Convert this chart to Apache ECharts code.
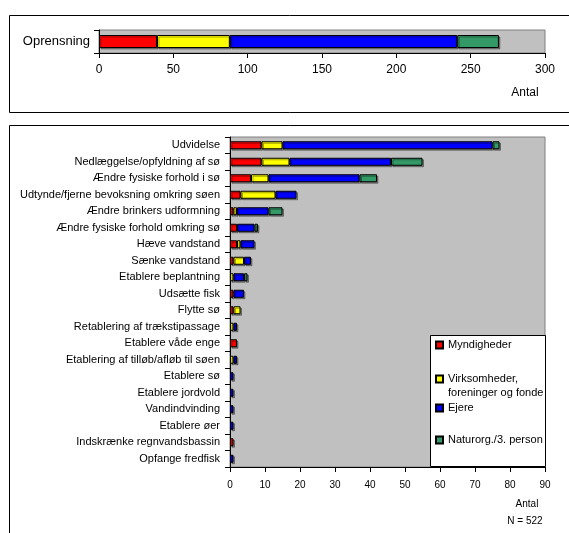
<!DOCTYPE html>
<html><head><meta charset="utf-8">
<script src="https://cdn.jsdelivr.net/npm/echarts@6/dist/echarts.min.js"></script>
<style>html,body{margin:0;padding:0;background:#fff}#c{width:569px;height:533px}</style>
</head><body><div id="c"></div>
<script>
const seriesNames = ['Myndigheder', 'Virksomheder, foreninger og fonde', 'Ejere', 'Naturorg./3. person'];
const colors = ['#ff0000', '#ffff00', '#0000ff', '#339966'];

const topCategories = ['Oprensning'];
const topMyndigheder = [39];
const topVirksomheder = [49];
const topEjere = [153];
const topNaturorg = [28];

const categories = ['Udvidelse','Nedlæggelse/opfyldning af sø','Ændre fysiske forhold i sø','Udtynde/fjerne bevoksning omkring søen','Ændre brinkers udformning','Ændre fysiske forhold omkring sø','Hæve vandstand','Sænke vandstand','Etablere beplantning','Udsætte fisk','Flytte sø','Retablering af trækstipassage','Etablere våde enge','Etablering af tilløb/afløb til søen','Etablere sø','Etablere jordvold','Vandindvinding','Etablere øer','Indskrænke regnvandsbassin','Opfange fredfisk'];
const myndigheder  = [9, 9, 6, 3, 1, 2, 2, 1, 0, 1, 1, 0, 2, 0, 0, 0, 0, 0, 1, 0];
const virksomheder = [6, 8, 5, 10, 1, 0, 1, 3, 1, 0, 2, 1, 0, 1, 0, 0, 0, 0, 0, 0];
const ejere        = [60, 29, 26, 6, 9, 5, 4, 2, 3, 3, 0, 1, 0, 1, 1, 1, 1, 1, 0, 1];
const naturorg     = [2, 9, 5, 0, 4, 1, 0, 0, 1, 0, 0, 0, 0, 0, 0, 0, 0, 0, 0, 0];

const topTicks = {min: 0, max: 300, interval: 50};
const botTicks = {min: 0, max: 90, interval: 10};

const topData = [topMyndigheder, topVirksomheder, topEjere, topNaturorg];
const botData = [myndigheder, virksomheder, ejere, naturorg];

const FONT = 'Liberation Sans';
const chart = echarts.init(document.getElementById('c'), null, {renderer: 'canvas'});

const itemStyleFor = i => ({color: colors[i], borderColor: '#000', borderWidth: 1,
  shadowColor: 'rgba(0,0,0,0.35)', shadowOffsetX: 1.5, shadowOffsetY: 1.5});

const series = [];
seriesNames.forEach((n, i) => {
  series.push({name: n, type: 'bar', stack: 'top', xAxisIndex: 0, yAxisIndex: 0,
    barWidth: 13, data: topData[i], itemStyle: itemStyleFor(i), emphasis: {disabled: true}});
});
seriesNames.forEach((n, i) => {
  series.push({name: n, type: 'bar', stack: 'bot', xAxisIndex: 1, yAxisIndex: 1,
    barWidth: 8, data: botData[i].map(v => v === 0 ? null : v), itemStyle: itemStyleFor(i), emphasis: {disabled: true}});
});

const legendTops = [338, 358, 401, 433];
const legends = seriesNames.map((n, i) => ({
  data: [n], orient: 'vertical', left: 435, top: legendTops[i], padding: 0,
  itemWidth: 7, itemHeight: 7, itemGap: 0, z: 20, selectedMode: false,
  icon: 'rect',
  textStyle: {fontFamily: FONT, fontSize: 11, color: '#000', lineHeight: 14},
  formatter: name => name === 'Virksomheder, foreninger og fonde' ? ' \nVirksomheder,\nforeninger og fonde' : name
}));

chart.setOption({
  animation: false,
  backgroundColor: '#fff',
  grid: [
    {left: 99, right: 24, top: 30, height: 23, show: true, backgroundColor: '#c0c0c0', borderColor: '#808080', borderWidth: 1},
    {left: 230, right: 24, top: 137, bottom: 66, show: true, backgroundColor: '#c0c0c0', borderColor: '#808080', borderWidth: 1}
  ],
  xAxis: [
    {type: 'value', gridIndex: 0, min: topTicks.min, max: topTicks.max, interval: topTicks.interval,
     splitLine: {show: false}, axisLine: {show: true, lineStyle: {color: '#000'}},
     axisTick: {show: true, length: 5, lineStyle: {color: '#000'}},
     axisLabel: {fontFamily: FONT, fontSize: 12, color: '#000', margin: 11}},
    {type: 'value', gridIndex: 1, min: botTicks.min, max: botTicks.max, interval: botTicks.interval,
     splitLine: {show: false}, axisLine: {show: true, lineStyle: {color: '#000'}},
     axisTick: {show: true, length: 5, lineStyle: {color: '#000'}},
     axisLabel: {fontFamily: FONT, fontSize: 10, color: '#000', margin: 13}}
  ],
  yAxis: [
    {type: 'category', gridIndex: 0, data: topCategories, inverse: true,
     axisLine: {show: true, lineStyle: {color: '#000'}},
     axisTick: {show: true, length: 5, lineStyle: {color: '#000'}},
     axisLabel: {fontFamily: FONT, fontSize: 13, color: '#000', margin: 9}},
    {type: 'category', gridIndex: 1, data: categories, inverse: true,
     axisLine: {show: true, lineStyle: {color: '#000'}},
     axisTick: {show: true, length: 5, lineStyle: {color: '#000'}},
     axisLabel: {fontFamily: FONT, fontSize: 11, color: '#000', margin: 10, interval: 0}}
  ],
  legend: legends,
  graphic: [
    {type: 'rect', shape: {x: 9.5, y: 15.5, width: 600, height: 97}, style: {fill: null, stroke: '#000', lineWidth: 1}, z: 1},
    {type: 'rect', shape: {x: 9.5, y: 125.5, width: 600, height: 500}, style: {fill: null, stroke: '#000', lineWidth: 1}, z: 1},
    {type: 'rect', shape: {x: 430.5, y: 335.5, width: 115, height: 131}, style: {fill: '#fff', stroke: '#000', lineWidth: 1}, z: 10},
    {type: 'text', x: 525, y: 93, style: {text: 'Antal', fontFamily: FONT, fontSize: 12, fill: '#000', align: 'center', verticalAlign: 'middle'}, z: 10},
    {type: 'text', x: 527, y: 504, style: {text: 'Antal', fontFamily: FONT, fontSize: 10, fill: '#000', align: 'center', verticalAlign: 'middle'}, z: 10},
    {type: 'text', x: 525, y: 521, style: {text: 'N = 522', fontFamily: FONT, fontSize: 10, fill: '#000', align: 'center', verticalAlign: 'middle'}, z: 10}
  ],
  series: series
});
</script></body></html>
